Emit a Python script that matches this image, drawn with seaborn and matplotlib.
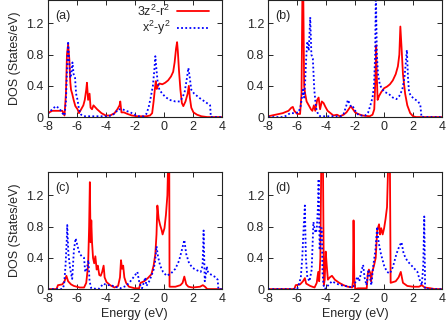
import numpy as np
import pandas as pd
import matplotlib
matplotlib.use('Agg')
import matplotlib.pyplot as plt
import seaborn as sns

# 각 패널의 DOS 데이터
a_red_x = [-8, -7.7, -7.0, -6.85, -6.75, -6.68, -6.6, -6.52, -6.45, -6.4, -6.32, -6.22, -6.1, -5.95, -5.85, -5.7, -5.55, -5.45, -5.35, -5.3, -5.22, -5.12, -5.05, -4.95, -4.85, -4.6, -4.3, -4.0, -3.7, -3.4, -3.2, -3.05, -3.0, -2.92, -2.75, -2.5, -2.2, -1.8, -1.2, -0.95, -0.8, -0.7, -0.6, -0.55, -0.48, -0.4, -0.3, -0.1, 0.1, 0.3, 0.5, 0.65, 0.75, 0.85, 0.92, 0.97, 1.05, 1.15, 1.25, 1.35, 1.5, 1.65, 1.73, 1.8, 1.9, 2.05, 2.3, 2.6, 3.0, 4.0]
a_red_y = [0.05, 0.08, 0.08, 0.02, 0.3, 0.8, 0.93, 0.75, 0.45, 0.35, 0.3, 0.22, 0.14, 0.1, 0.05, 0.1, 0.15, 0.22, 0.35, 0.44, 0.22, 0.3, 0.12, 0.1, 0.15, 0.1, 0.05, 0.02, 0.02, 0.05, 0.1, 0.15, 0.2, 0.06, 0.06, 0.04, 0.02, 0.01, 0.01, 0.02, 0.05, 0.2, 0.38, 0.46, 0.36, 0.4, 0.43, 0.42, 0.44, 0.47, 0.52, 0.58, 0.7, 0.88, 0.96, 0.85, 0.6, 0.35, 0.18, 0.14, 0.2, 0.3, 0.4, 0.25, 0.12, 0.06, 0.03, 0.01, 0.0, 0.0]
a_blue_x = [-8, -7.7, -7.45, -7.2, -7.0, -6.85, -6.75, -6.68, -6.6, -6.52, -6.45, -6.38, -6.3, -6.22, -6.12, -6.05, -5.95, -5.85, -5.7, -5.5, -4.5, -4.0, -3.6, -3.35, -3.15, -2.85, -2.6, -2.3, -2.0, -1.7, -1.4, -1.2, -1.05, -0.9, -0.75, -0.65, -0.58, -0.5, -0.42, -0.3, -0.1, 0.1, 0.4, 0.8, 1.1, 1.3, 1.45, 1.6, 1.7, 1.8, 1.9, 2.1, 2.5, 2.9, 3.2, 3.25, 4.0]
a_blue_y = [0.04, 0.1, 0.14, 0.11, 0.05, 0.02, 0.2, 0.6, 0.97, 0.7, 0.5, 0.55, 0.7, 0.55, 0.5, 0.3, 0.22, 0.1, 0.03, 0.01, 0.01, 0.01, 0.02, 0.05, 0.1, 0.1, 0.08, 0.06, 0.03, 0.01, 0.01, 0.04, 0.12, 0.25, 0.4, 0.6, 0.78, 0.6, 0.45, 0.35, 0.3, 0.26, 0.22, 0.2, 0.2, 0.25, 0.33, 0.5, 0.63, 0.5, 0.35, 0.3, 0.24, 0.19, 0.15, 0.0, 0.0]

b_red_x = [-8, -7.5, -7.0, -6.6, -6.4, -6.3, -6.2, -6.0, -5.8, -5.7, -5.64, -5.58, -5.52, -5.45, -5.35, -5.2, -5.05, -4.95, -4.85, -4.75, -4.62, -4.52, -4.42, -4.3, -4.18, -4.05, -3.9, -3.7, -3.5, -3.25, -3.05, -2.8, -2.6, -2.45, -2.3, -2.15, -2.0, -1.8, -1.5, -1.0, -0.8, -0.68, -0.6, -0.55, -0.5, -0.45, -0.35, -0.2, 0.0, 0.2, 0.4, 0.6, 0.8, 0.95, 1.05, 1.12, 1.2, 1.3, 1.45, 1.6, 1.8, 2.0, 2.2, 4.0]
b_red_y = [0.01, 0.03, 0.05, 0.08, 0.12, 0.13, 0.08, 0.04, 0.04, 0.3, 1.6, 1.6, 0.4, 0.3, 0.2, 0.15, 0.1, 0.08, 0.15, 0.08, 0.22, 0.25, 0.1, 0.2, 0.18, 0.13, 0.08, 0.05, 0.02, 0.03, 0.01, 0.03, 0.06, 0.1, 0.14, 0.1, 0.06, 0.04, 0.02, 0.01, 0.03, 0.1, 0.5, 0.92, 0.5, 0.22, 0.27, 0.32, 0.37, 0.39, 0.42, 0.47, 0.55, 0.65, 0.8, 1.16, 0.9, 0.55, 0.3, 0.15, 0.05, 0.01, 0.0, 0.0]
b_blue_x = [-8, -7.0, -6.7, -6.5, -6.2, -5.9, -5.75, -5.6, -5.52, -5.45, -5.38, -5.3, -5.2, -5.1, -5.02, -4.92, -4.82, -4.7, -4.55, -4.4, -3.0, -2.8, -2.65, -2.5, -2.4, -2.3, -2.2, -2.05, -1.9, -1.7, -1.3, -1.1, -0.95, -0.8, -0.7, -0.62, -0.57, -0.5, -0.42, -0.3, -0.15, 0.05, 0.3, 0.6, 0.85, 1.05, 1.25, 1.4, 1.5, 1.57, 1.65, 1.72, 1.85, 2.1, 2.35, 2.5, 2.58, 4.0]
b_blue_y = [0.0, 0.0, 0.02, 0.05, 0.05, 0.06, 0.15, 0.35, 0.25, 0.45, 0.75, 0.97, 0.85, 1.28, 0.8, 0.75, 0.35, 0.12, 0.03, 0.01, 0.01, 0.04, 0.12, 0.22, 0.18, 0.14, 0.15, 0.1, 0.05, 0.02, 0.02, 0.06, 0.15, 0.25, 0.4, 0.8, 1.6, 0.8, 0.55, 0.42, 0.36, 0.32, 0.3, 0.25, 0.23, 0.27, 0.35, 0.5, 0.7, 0.86, 0.5, 0.32, 0.27, 0.23, 0.2, 0.15, 0.0, 0.0]

c_red_x = [-8, -7.4, -7.3, -7.0, -6.85, -6.72, -6.6, -6.4, -6.2, -5.8, -5.5, -5.35, -5.22, -5.15, -5.1, -5.05, -5.0, -4.95, -4.88, -4.8, -4.72, -4.63, -4.55, -4.45, -4.35, -4.25, -4.15, -4.08, -3.95, -3.7, -3.4, -3.15, -3.02, -2.95, -2.88, -2.8, -2.72, -2.6, -2.4, -2.0, -1.7, -1.6, -1.35, -1.1, -0.85, -0.7, -0.58, -0.5, -0.44, -0.35, -0.25, -0.15, -0.08, 0.05, 0.15, 0.25, 0.3, 0.38, 0.4, 0.8, 1.15, 1.3, 1.42, 1.55, 1.7, 2.0, 2.5, 2.7, 2.85, 3.0, 4.0]
c_red_y = [0.0, 0.0, 0.05, 0.06, 0.1, 0.17, 0.1, 0.06, 0.04, 0.02, 0.02, 0.08, 0.3, 0.8, 1.37, 0.6, 0.88, 0.6, 0.4, 0.33, 0.42, 0.25, 0.3, 0.18, 0.17, 0.22, 0.3, 0.15, 0.09, 0.05, 0.02, 0.04, 0.15, 0.37, 0.26, 0.3, 0.15, 0.08, 0.03, 0.01, 0.01, 0.08, 0.1, 0.14, 0.19, 0.3, 0.45, 0.7, 1.07, 0.9, 0.82, 0.76, 0.7, 0.78, 0.95, 1.2, 1.6, 1.6, 0.03, 0.03, 0.05, 0.08, 0.16, 0.06, 0.03, 0.02, 0.03, 0.05, 0.03, 0.0, 0.0]
c_blue_x = [-8, -7.0, -6.88, -6.78, -6.7, -6.66, -6.58, -6.45, -6.32, -6.2, -6.08, -5.95, -5.8, -5.65, -5.5, -5.42, -5.32, -5.2, -5.12, -5.0, -4.5, -4.35, -4.15, -3.95, -3.65, -3.35, -3.0, -2.6, -2.3, -2.05, -1.82, -1.7, -1.6, -1.5, -1.35, -1.27, -1.2, -1.05, -0.85, -0.7, -0.6, -0.5, -0.4, -0.25, -0.05, 0.2, 0.5, 0.8, 1.05, 1.25, 1.42, 1.55, 1.75, 2.0, 2.3, 2.55, 2.68, 2.75, 2.83, 2.92, 2.97, 3.05, 3.3, 3.6, 3.72, 3.77, 4.0]
c_blue_y = [0.0, 0.0, 0.05, 0.3, 0.6, 0.82, 0.45, 0.25, 0.13, 0.5, 0.65, 0.55, 0.45, 0.42, 0.4, 0.22, 0.25, 0.37, 0.1, 0.01, 0.0, 0.03, 0.07, 0.05, 0.05, 0.03, 0.01, 0.04, 0.1, 0.16, 0.22, 0.1, 0.04, 0.01, 0.1, 0.15, 0.04, 0.08, 0.17, 0.25, 0.35, 0.55, 0.42, 0.3, 0.22, 0.17, 0.2, 0.26, 0.36, 0.5, 0.63, 0.45, 0.33, 0.27, 0.24, 0.22, 0.3, 0.75, 0.1, 0.2, 0.29, 0.22, 0.18, 0.15, 0.12, 0.0, 0.0]

d_red_x = [-8, -6.2, -6.1, -5.8, -5.6, -5.47, -5.38, -5.1, -4.8, -4.65, -4.55, -4.48, -4.4, -4.34, -4.22, -4.16, -4.1, -4.03, -3.96, -3.88, -3.75, -3.6, -3.4, -3.1, -2.8, -2.5, -2.2, -2.15, -2.11, -2.06, -2.0, -1.8, -1.2, -1.12, -1.05, -0.95, -0.9, -0.82, -0.7, -0.58, -0.48, -0.35, -0.28, -0.2, -0.1, 0.0, 0.1, 0.2, 0.28, 0.4, 0.45, 0.8, 1.0, 1.15, 1.3, 1.6, 2.0, 2.4, 2.6, 2.8, 3.2, 3.5, 4.0]
d_red_y = [0.0, 0.0, 0.05, 0.06, 0.1, 0.14, 0.07, 0.04, 0.02, 0.08, 0.22, 0.1, 0.4, 1.6, 1.6, 0.05, 0.12, 0.48, 0.3, 0.12, 0.15, 0.17, 0.12, 0.08, 0.05, 0.03, 0.02, 0.1, 0.88, 0.15, 0.0, 0.01, 0.01, 0.2, 0.25, 0.2, 0.1, 0.22, 0.3, 0.4, 0.75, 0.83, 0.7, 0.78, 0.7, 0.78, 0.9, 1.05, 1.6, 1.6, 0.08, 0.1, 0.15, 0.22, 0.08, 0.04, 0.03, 0.03, 0.05, 0.02, 0.01, 0.0, 0.0]
d_blue_x = [-8, -6.0, -5.9, -5.75, -5.65, -5.55, -5.47, -5.4, -5.3, -5.15, -5.0, -4.88, -4.78, -4.7, -4.64, -4.58, -4.52, -4.45, -4.38, -4.3, -4.25, -4.18, -4.1, -3.9, -3.6, -3.3, -3.0, -2.7, -2.4, -2.2, -2.05, -1.85, -1.72, -1.58, -1.45, -1.35, -1.22, -1.08, -0.98, -0.88, -0.75, -0.6, -0.48, -0.38, -0.22, 0.0, 0.2, 0.4, 0.6, 0.85, 1.05, 1.2, 1.35, 1.6, 2.0, 2.3, 2.45, 2.6, 2.7, 2.77, 2.83, 4.0]
d_blue_y = [0.0, 0.0, 0.05, 0.15, 0.4, 0.8, 1.07, 0.4, 0.15, 0.1, 0.25, 0.86, 0.75, 0.72, 0.8, 1.0, 1.41, 0.5, 0.78, 0.78, 0.2, 0.05, 0.0, 0.04, 0.1, 0.07, 0.05, 0.04, 0.03, 0.02, 0.05, 0.16, 0.1, 0.22, 0.31, 0.15, 0.05, 0.25, 0.15, 0.05, 0.3, 0.5, 0.8, 0.6, 0.45, 0.3, 0.22, 0.2, 0.28, 0.45, 0.55, 0.6, 0.45, 0.36, 0.28, 0.22, 0.12, 0.05, 0.3, 0.93, 0.0, 0.0]

panels = [
    ('(a)', a_red_x, a_red_y, a_blue_x, a_blue_y),
    ('(b)', b_red_x, b_red_y, b_blue_x, b_blue_y),
    ('(c)', c_red_x, c_red_y, c_blue_x, c_blue_y),
    ('(d)', d_red_x, d_red_y, d_blue_x, d_blue_y),
]
x_ticks = [-8, -6, -4, -2, 0, 2, 4]
y_ticks = [0, 0.4, 0.8, 1.2]
y_tick_labels = ['0', '0.4', '0.8', '1.2']

sns.set_style('ticks')
plt.rcParams['font.family'] = ['Liberation Sans', 'DejaVu Sans']
plt.rcParams['mathtext.fontset'] = 'custom'
plt.rcParams['mathtext.rm'] = 'Liberation Sans'
plt.rcParams['mathtext.it'] = 'Liberation Sans'

FS = 9

fig = plt.figure(figsize=(4.47, 3.27), dpi=100)
# 패널 위치 (figure 좌표)
positions = [
    [0.107, 0.642, 0.389, 0.358],
    [0.600, 0.642, 0.389, 0.358],
    [0.107, 0.116, 0.389, 0.358],
    [0.600, 0.116, 0.389, 0.358],
]

for i, (tag, rx, ry, bx, by) in enumerate(panels):
    ax = fig.add_axes(positions[i])
    sns.lineplot(x=rx, y=ry, ax=ax, color='#ff0000', linewidth=1.3,
                 estimator=None, sort=False, label='3z$^2$-r$^2$')
    sns.lineplot(x=bx, y=by, ax=ax, color='#0000ff', linewidth=1.3,
                 estimator=None, sort=False, linestyle=(0, (1, 1.3)), label='x$^2$-y$^2$')
    ax.set_xlim(-8, 4)
    ax.set_ylim(0, 1.5)
    ax.set_xticks(x_ticks)
    ax.set_xticklabels([str(t) for t in x_ticks])
    ax.set_yticks(y_ticks)
    ax.set_yticklabels(y_tick_labels)
    ax.tick_params(direction='in', top=True, right=True, length=3.5, width=0.7,
                   labelsize=FS, pad=3)
    for sp in ax.spines.values():
        sp.set_linewidth(0.8)
        sp.set_color('#222222')
    ax.text(0.04, 0.86, tag, transform=ax.transAxes, fontsize=FS, va='center')
    if i == 0:
        ax.legend(loc='upper right', frameon=False, fontsize=FS, markerfirst=False,
                  handlelength=2.6, handletextpad=0.5, labelspacing=0.0,
                  borderaxespad=0.0, borderpad=0.15,
                  bbox_to_anchor=(0.94, 0.985))
    else:
        ax.get_legend().remove()
    if i % 2 == 0:
        ax.set_ylabel('DOS (States/eV)', fontsize=FS, labelpad=4)
    else:
        ax.set_ylabel('')
    if i >= 2:
        ax.set_xlabel('Energy (eV)', fontsize=FS, labelpad=2)
    else:
        ax.set_xlabel('')

fig.savefig('out.png', dpi=100)
